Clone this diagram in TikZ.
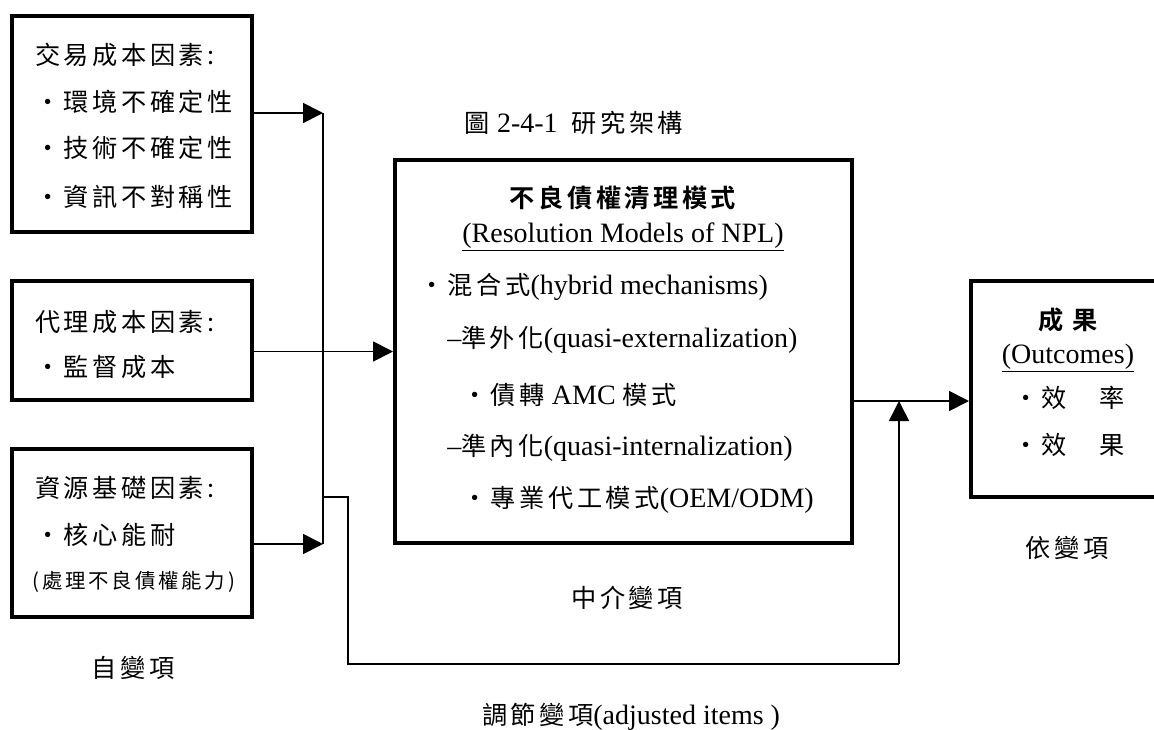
\documentclass[tikz,border=0pt]{standalone}
\usepackage{fontspec}
\usepackage{tikz}
\usetikzlibrary{arrows.meta}
\setmainfont{Liberation Serif}
\newfontfamily\cjk[Scale=0.9,LetterSpace=14,BoldFont={Noto Sans CJK TC Bold}]{Noto Sans CJK TC}

\begin{document}
\begin{tikzpicture}[x=0.75pt, y=-0.75pt, every node/.style={inner sep=0pt, font=\fontsize{21}{25}\selectfont}]
\tikzset{box/.style={draw, line width=3pt, minimum width=180pt}}
\tikzset{conn/.style={line width=1.3pt}, arr/.style={conn, -{Triangle[length=15pt,width=15pt]}}}
\useasboundingbox (0,0) rectangle (1154,729);
\node[box, minimum height=162pt] (b1) at (132,124) {};
\node[box, minimum height=89.25pt] (b2) at (132,340.5) {};
\node[box, minimum height=126pt] (b3) at (132,533) {};
\node[box, minimum width=342.75pt, minimum height=287.25pt] (main) at (623.5,351.5) {};
\node[box, minimum width=141.75pt, minimum height=162pt] (out) at (1065.5,389) {};
\node[anchor=west] (t1) at (35,55)  {\cjk 交易成本因素:};
\node[anchor=west] (t2) at (35,102) {\cjk ・環境不確定性};
\node[anchor=west] (t3) at (35,148) {\cjk ・技術不確定性};
\node[anchor=west] (t4) at (35,197) {\cjk ・資訊不對稱性};
\node[anchor=west] (t5) at (35,322) {\cjk 代理成本因素:};
\node[anchor=west] (t6) at (35,367) {\cjk ・監督成本};
\node[anchor=west] (t7) at (35,488) {\cjk 資源基礎因素:};
\node[anchor=west] (t8) at (35,535) {\cjk ・核心能耐};
\node[anchor=west] (t9) at (32,582) {\fontsize{17}{20}\selectfont\cjk (處理不良債權能力)};
\node (title) at (574,123) {{\cjk 圖} 2-4-1\ \ {\cjk 研究架構}};
\node (m1) at (623,198) {\cjk\bfseries 不良債權清理模式};
\node (m2) at (623,237) {\underline{(Resolution Models of NPL)}};
\node[anchor=west] (m3) at (419,287) {{\cjk ・混合式}(hybrid mechanisms)};
\node[anchor=west] (m4) at (447,340) {–{\cjk 準外化}(quasi-externalization)};
\node[anchor=west] (m5) at (462,395) {{\cjk ・債轉} AMC {\cjk 模式}};
\node[anchor=west] (m6) at (447,448) {–{\cjk 準內化}(quasi-internalization)};
\node[anchor=west] (m7) at (462,500) {{\cjk ・專業代工模式}(OEM/ODM)};
\node (o1) at (1068,320) {\cjk\bfseries 成 果};
\node (o2) at (1068,358) {\underline{(Outcomes)}};
\node[anchor=west] (o3) at (1013,398) {\cjk ・效　率};
\node[anchor=west] (o4) at (1013,445) {\cjk ・效　果};
\node (l1) at (133,668)  {\cjk 自變項};
\node (l2) at (627,598)  {\cjk 中介變項};
\node (l3) at (1067,548) {\cjk 依變項};
\node (l4) at (631,717)  {{\cjk 調節變項}(adjusted items )};
\coordinate (j1) at (323,113);
\coordinate (j2) at (323,544);
\coordinate (j3) at (323,497);
\coordinate (k1) at (899,664);
\coordinate (k2) at (899,401);
\draw[arr] (b1.east |- j1) -- (j1);
\draw[conn] (j1) -- (j2);
\draw[arr] (b3.east |- j2) -- (j2);
\draw[arr] (b2.east |- main.west) -- (main.west);
\draw[line width=1pt] (j3) -- ++(25,0) |- (k1);
\draw[arr] (k1) -- (k2);
\draw[arr] (main.east |- k2) -- (out.west |- k2);
\end{tikzpicture}
\end{document}
